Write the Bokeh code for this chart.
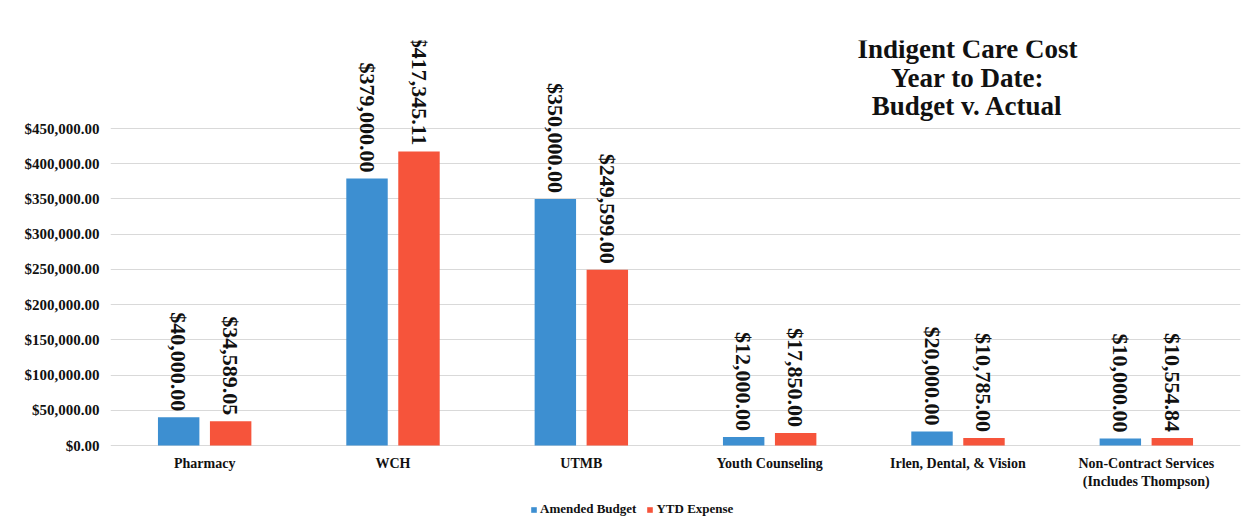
import math
from bokeh.plotting import figure
from bokeh.models import (ColumnDataSource, FactorRange, Range1d, LabelSet, Label,
                          FixedTicker, NumeralTickFormatter, Legend, LegendItem)
from bokeh.core.properties import value
from bokeh.transform import dodge
from bokeh.embed import file_html
from bokeh.resources import INLINE

categories = ["Pharmacy", "WCH", "UTMB", "Youth Counseling", "Irlen, Dental, & Vision",
              "Non-Contract Services"]
cat_labels_line1 = ["Pharmacy", "WCH", "UTMB", "Youth Counseling", "Irlen, Dental, & Vision",
                    "Non-Contract Services"]
cat_labels_line2 = ["", "", "", "", "", "(Includes Thompson)"]
amended_budget = [40000.00, 379000.00, 350000.00, 12000.00, 20000.00, 10000.00]
ytd_expense = [34589.05, 417345.11, 249599.00, 17850.00, 10785.00, 10554.84]
series_names = ["Amended Budget", "YTD Expense"]
y_ticks = [0, 50000, 100000, 150000, 200000, 250000, 300000, 350000, 400000, 450000]
title_lines = ["Indigent Care Cost", "Year to Date:", "Budget v. Actual"]

BLUE = "#3d8fd1"
RED = "#f6543b"
FONT = "Liberation Serif"
TXT = "#111111"

# layout helpers (pixels -> data units)
PX = 450000 / 317.0
Y_MIN = -80 * PX
Y_MAX = 575000

def fmt(v):
    return "${:,.2f}".format(v)

src = ColumnDataSource(dict(
    cat=categories,
    budget=amended_budget,
    ytd=ytd_expense,
    budget_lbl=[fmt(v) for v in amended_budget],
    ytd_lbl=[fmt(v) for v in ytd_expense],
    l1=cat_labels_line1,
    l2=cat_labels_line2,
    y1=[-18 * PX] * len(categories),
    y2=[-36 * PX] * len(categories),
))

p = figure(x_range=FactorRange(*categories), y_range=Range1d(Y_MIN, Y_MAX),
           frame_width=1130, frame_height=485, output_backend="svg", toolbar_location=None,
           x_axis_location=None,
           min_border_left=110, min_border_right=19, min_border_top=40,
           min_border_bottom=0)
p.outline_line_color = None
p.background_fill_color = "white"
p.border_fill_color = "white"

off = 0.138
w = 0.22
rb = p.vbar(x=dodge("cat", -off, range=p.x_range), top="budget", width=w,
            source=src, fill_color=BLUE, line_color=None)
rr = p.vbar(x=dodge("cat", off, range=p.x_range), top="ytd", width=w,
            source=src, fill_color=RED, line_color=None)

for col, o in (("budget", -off), ("ytd", off)):
    ls = LabelSet(x=dodge("cat", o, range=p.x_range), y=col, text=col + "_lbl",
                  source=src, angle=-math.pi / 2, text_align="right",
                  text_baseline="middle", y_offset=6,
                  text_font=FONT, text_font_style="bold", text_font_size="22px",
                  text_color=TXT)
    p.add_layout(ls)

# Category labels (below baseline)
for ycol, tcol in (("y1", "l1"), ("y2", "l2")):
    p.text(x="cat", y=ycol, text=tcol, source=src, text_align="center",
           text_baseline="middle", text_font=value(FONT), text_font_style="bold",
           text_font_size="14px", text_color=TXT)

# Title
title_y = [563600, 522400, 482600]
for t, yy in zip(title_lines, title_y):
    p.add_layout(Label(x=4.55, y=yy, text=t, text_align="center", text_baseline="middle",
                       text_font=FONT, text_font_style="bold", text_font_size="27px",
                       text_color=TXT))

# Y axis
p.yaxis.ticker = FixedTicker(ticks=y_ticks)
p.yaxis.formatter = NumeralTickFormatter(format="$0,0.00")
p.yaxis.axis_line_color = None
p.yaxis.major_tick_line_color = None
p.yaxis.minor_tick_line_color = None
p.yaxis.major_label_text_font = FONT
p.yaxis.major_label_text_font_style = "bold"
p.yaxis.major_label_text_font_size = "15px"
p.yaxis.major_label_text_color = TXT

p.xgrid.grid_line_color = None
p.ygrid.ticker = FixedTicker(ticks=y_ticks)
p.ygrid.grid_line_color = "#d9d9d9"

legend = Legend(items=[LegendItem(label=series_names[0], renderers=[rb]),
                       LegendItem(label=series_names[1], renderers=[rr])],
                orientation="horizontal", location=(420, 8),
                label_text_font=FONT, label_text_font_style="bold",
                label_text_font_size="13px", label_text_color=TXT,
                glyph_width=7, glyph_height=7, spacing=10, padding=0, margin=0,
                label_standoff=3, label_height=14,
                border_line_color=None, background_fill_alpha=0)
p.add_layout(legend, "center")

open("out.html", "w").write(file_html(p, INLINE))
